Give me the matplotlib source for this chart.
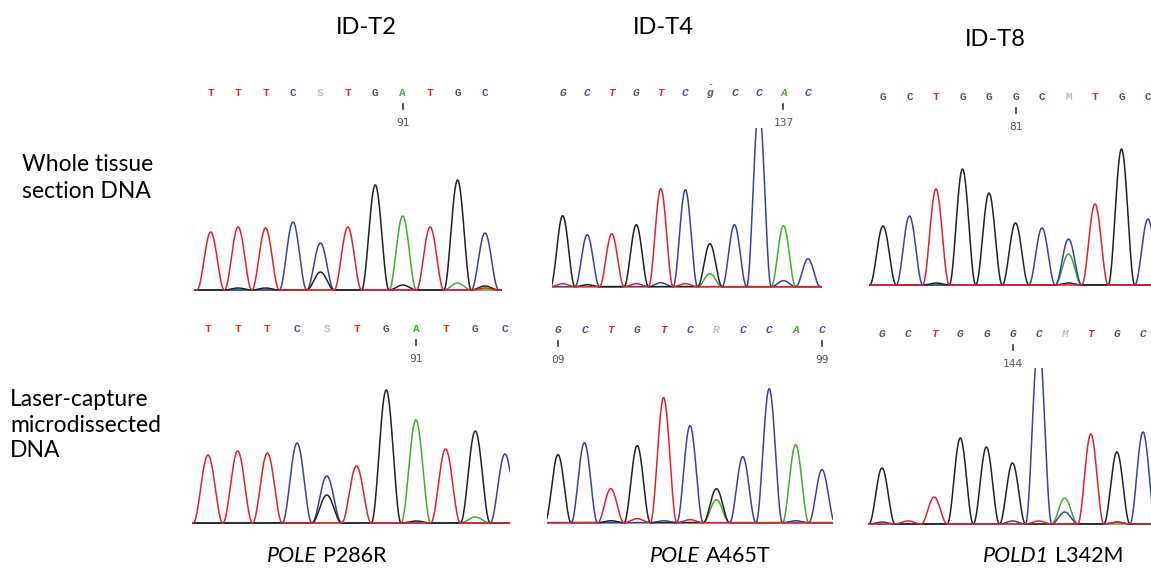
import numpy as np
import matplotlib
matplotlib.use("Agg")
import matplotlib.pyplot as plt

W, H = 1151, 571

# base calls shown above each trace
bases_t2 = "TTTCSTGATGC"
bases_t4 = "GCTGTCgCCAC"
bases_t8 = "GCTGGGCMTGC"
bases_t4_lcm = "GCTGTCRCCAC"

# peak heights per base (trace channels A, C, G, T), whole tissue section DNA
t2_whole_A = [0, 0, 0, 0, 0, 0, 0, 74, 0, 7, 0]
t2_whole_C = [0, 0, 0, 68, 47, 0, 0, 0, 0, 0, 57]
t2_whole_G = [0, 2, 2, 0, 18, 0, 105, 5, 0, 110, 4]
t2_whole_T = [58, 63, 62, 0, 0, 63, 0, 0, 63, 0, 2]

t4_whole_A = [0, 0, 0, 0, 0, 0, 13, 0, 0, 61, 0]
t4_whole_C = [0, 52, 0, 0, 4, 97, 0, 62, 180, 6, 28]
t4_whole_G = [71, 2, 0, 62, 0, 0, 43, 0, 0, 0, 0]
t4_whole_T = [3, 0, 53, 3, 98, 3, 0, 0, 0, 0, 0]

t8_whole_A = [0, 0, 0, 0, 0, 0, 0, 31, 0, 0, 0]
t8_whole_C = [0, 69, 0, 0, 0, 0, 57, 46, 0, 0, 66]
t8_whole_G = [59, 0, 2, 116, 92, 62, 0, 2, 0, 136, 0]
t8_whole_T = [0, 0, 96, 0, 0, 0, 0, 0, 81, 0, 0]

# laser-capture microdissected DNA
t2_lcm_A = [0, 0, 0, 0, 0, 0, 0, 103, 0, 6, 0]
t2_lcm_C = [0, 0, 0, 80, 47, 0, 0, 0, 0, 0, 69]
t2_lcm_G = [0, 0, 0, 0, 28, 0, 133, 2, 0, 92, 0]
t2_lcm_T = [68, 72, 70, 0, 0, 57, 0, 0, 74, 0, 0]

t4_lcm_A = [0, 0, 0, 0, 0, 0, 23, 0, 0, 78, 0]
t4_lcm_C = [0, 80, 0, 0, 2, 97, 0, 66, 134, 2, 53]
t4_lcm_G = [68, 0, 2, 77, 0, 0, 34, 0, 0, 0, 0]
t4_lcm_T = [0, 0, 34, 4, 125, 3, 0, 0, 0, 0, 0]

t8_lcm_A = [0, 0, 0, 0, 0, 0, 0, 26, 0, 0, 0]
t8_lcm_C = [2, 0, 0, 0, 0, 3, 185, 12, 0, 2, 92]
t8_lcm_G = [56, 0, 0, 86, 77, 61, 0, 0, 0, 72, 0]
t8_lcm_T = [0, 3, 27, 0, 0, 0, 3, 0, 90, 2, 0]

sample_ids = ["ID-T2", "ID-T4", "ID-T8"]
mutations = [("POLE", "P286R"), ("POLE", "A465T"), ("POLD1", "L342M")]
row_labels = ["Whole tissue\nsection DNA", "Laser-capture\nmicrodissected\nDNA"]

colors = {"A": "#3fae2a", "C": "#3b3fa6", "G": "#222222", "T": "#e3212b"}
letter_colors = {"A": "#47a836", "C": "#4a4ab0", "G": "#555555", "T": "#e02a2a", "g": "#555555"}

# (bases, traces, pixel layout [x of first peak, x of last peak, left px, right px, baseline y, clip height],
#  letter y above baseline, letter style, tick positions/labels)
panels = [
    (bases_t2, (t2_whole_A, t2_whole_C, t2_whole_G, t2_whole_T),
     (210.7, 485, 194, 502, 290, 175), 197, "normal", [(7, "91")]),
    (bases_t4, (t4_whole_A, t4_whole_C, t4_whole_G, t4_whole_T),
     (562.7, 808, 551.7, 821.7, 286.7, 159), 194, "italic", [(9, "137")]),
    (bases_t8, (t8_whole_A, t8_whole_C, t8_whole_G, t8_whole_T),
     (883, 1148, 869, 1170, 285, 175), 188, "normal", [(5, "81")]),
    (bases_t2, (t2_lcm_A, t2_lcm_C, t2_lcm_G, t2_lcm_T),
     (208, 505, 192, 510, 523, 175), 194, "normal", [(7, "91")]),
    (bases_t4_lcm, (t4_lcm_A, t4_lcm_C, t4_lcm_G, t4_lcm_T),
     (558, 822, 547, 833, 522.7, 175), 193, "italic", [(0, "09"), (10, "99")]),
    (bases_t8, (t8_lcm_A, t8_lcm_C, t8_lcm_G, t8_lcm_T),
     (882, 1143, 868, 1170, 524, 156), 190, "italic", [(5, "144")]),
]

fig = plt.figure(figsize=(W / 100, H / 100), dpi=100)

half_width = 0.5  # peak half width at the baseline, in base spacings
for bases, traces, (p0, p1, xl, xr, base_y, top), letter_y, style, ticks in panels:
    s = (p1 - p0) / (len(bases) - 1)
    left_i = (xl - p0) / s
    right_i = (xr - p0) / s
    ax = fig.add_axes([xl / W, 1 - (base_y + 2) / H, (xr - xl) / W, (top + 2) / H])
    ax.set_xlim(left_i, right_i)
    ax.set_ylim(-2, top)
    ax.axis("off")

    x = np.linspace(left_i, right_i, 2000)
    idx = np.arange(len(bases))
    for ch, heights in zip("ACGT", traces):
        h = np.array(heights, dtype=float)
        d = np.clip(np.abs(x[None, :] - idx[:, None]) / half_width, 0, 1)
        shape = np.cos(d * np.pi / 2) ** 2
        y = (h[:, None] * shape).sum(axis=0)
        ax.plot(x, y, color=colors[ch], lw=1.1)

    for i, b in enumerate(bases):
        ax.text(i, letter_y, b.upper() if b != "g" else "g",
                color=letter_colors.get(b, "#bdbdbd"), fontsize=8,
                family="Liberation Mono", style=style, weight="bold",
                ha="center", va="center", clip_on=False)
        if b == "g":
            ax.text(i, letter_y + 9, "-", color="#e02a2a", fontsize=7,
                    family="Liberation Mono", ha="center", va="center", clip_on=False)
    for i, lab in ticks:
        ax.plot([i, i], [letter_y - 16, letter_y - 11], color="#333333", lw=1.2, clip_on=False)
        ax.text(i, letter_y - 30, lab, color="#555555", fontsize=8,
                family="DejaVu Sans Mono", ha="center", va="center", clip_on=False)

font = "Lato"
title_pos = [(366, 28), (663, 28), (995, 39)]
for (tx, ty), name in zip(title_pos, sample_ids):
    fig.text(tx / W, 1 - ty / H, name, fontsize=17, family=font, ha="center", va="center")

fig.text(22 / W, 1 - 178 / H, row_labels[0], fontsize=16.5, family=font,
         ha="left", va="center", linespacing=1.3)
fig.text(10 / W, 1 - 425 / H, row_labels[1], fontsize=16.5, family=font,
         ha="left", va="center", linespacing=1.25)

split_x = [320, 703, 1052]
for sx, (gene, change) in zip(split_x, mutations):
    fig.text((sx - 3) / W, 1 - 556 / H, gene, fontsize=15.5, family=font, style="italic",
             ha="right", va="center")
    fig.text((sx + 3) / W, 1 - 556 / H, change, fontsize=15.5, family=font,
             ha="left", va="center")

fig.savefig("out.png", dpi=100)
